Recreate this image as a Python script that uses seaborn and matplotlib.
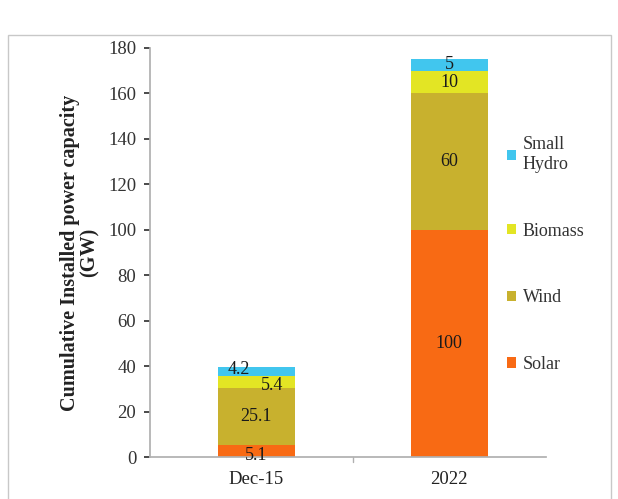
import matplotlib
matplotlib.use("Agg")
import matplotlib.pyplot as plt
import matplotlib.patches as mpatches
import seaborn as sns
import numpy as np

# data
periods = ["Dec-15", "2022"]
sources = ["Solar", "Wind", "Biomass", "Small Hydro"]
solar = [5.1, 100]
wind = [25.1, 60]
biomass = [5.4, 10]
small_hydro = [4.2, 5]
colors = ["#F86A14", "#C8B12E", "#E3E524", "#41C6EE"]

sns.set_theme(style="white")
plt.rcParams["font.family"] = ["Liberation Serif", "DejaVu Serif"]

fig = plt.figure(figsize=(6.18, 4.99), dpi=100)
ax = fig.add_axes([0.243, 0.084, 0.640, 0.820])

# light frame around the whole chart (like the scanned Excel chart)
fig.patches.append(mpatches.Rectangle((0.013, -0.01), 0.975, 0.94, transform=fig.transFigure,
                                      fill=False, edgecolor="#c8c8c8", linewidth=1.0))

series = [solar, wind, biomass, small_hydro]
bottom = np.zeros(len(periods))
for name, vals, col in zip(sources, series, colors):
    sns.barplot(x=periods, y=vals, bottom=bottom, color=col, width=0.4,
                label=name, ax=ax, saturation=1, linewidth=0)
    for i, v in enumerate(vals):
        dx, dy = 0, 0
        if i == 0 and name == "Small Hydro":
            dx, dy = -0.09, 0.8
        if i == 0 and name == "Biomass":
            dx, dy = 0.08, -1.6
        if i == 0 and name == "Solar":
            dy = -1.8
        ax.text(i + dx, bottom[i] + v / 2 + dy, f"{v:g}", ha="center", va="center",
                fontsize=13, color="#1a1a1a")
    bottom = bottom + np.array(vals)

ax.set_ylim(0, 180)
ax.set_xlim(-0.55, 1.5)
ax.set_yticks(range(0, 181, 20))
ax.set_ylabel("Cumulative Installed power capacity\n(GW)", fontsize=14.5, fontweight="bold",
              color="#222222", labelpad=6, linespacing=1.0)
ax.tick_params(axis="y", labelsize=13.5, colors="#333333", length=4, left=True, pad=6)
ax.tick_params(axis="x", labelsize=13.5, colors="#222222", length=0, pad=10)

for s in ["top", "right"]:
    ax.spines[s].set_visible(False)
ax.spines["left"].set_color("#b0b0b0")
ax.spines["bottom"].set_color("#b0b0b0")
ax.axvline(0.5, ymin=-0.012, ymax=0, color="#b0b0b0", linewidth=1, clip_on=False)

handles, labels = ax.get_legend_handles_labels()
labels = ["Small\nHydro" if l == "Small Hydro" else l for l in labels]
ax.legend(handles[::-1], labels[::-1], loc="center left", bbox_to_anchor=(0.86, 0.495),
          frameon=False, fontsize=13, handlelength=0.5, handleheight=0.5,
          handletextpad=0.4, labelspacing=2.75, labelcolor="#333333")

fig.savefig("out.png", dpi=100)
